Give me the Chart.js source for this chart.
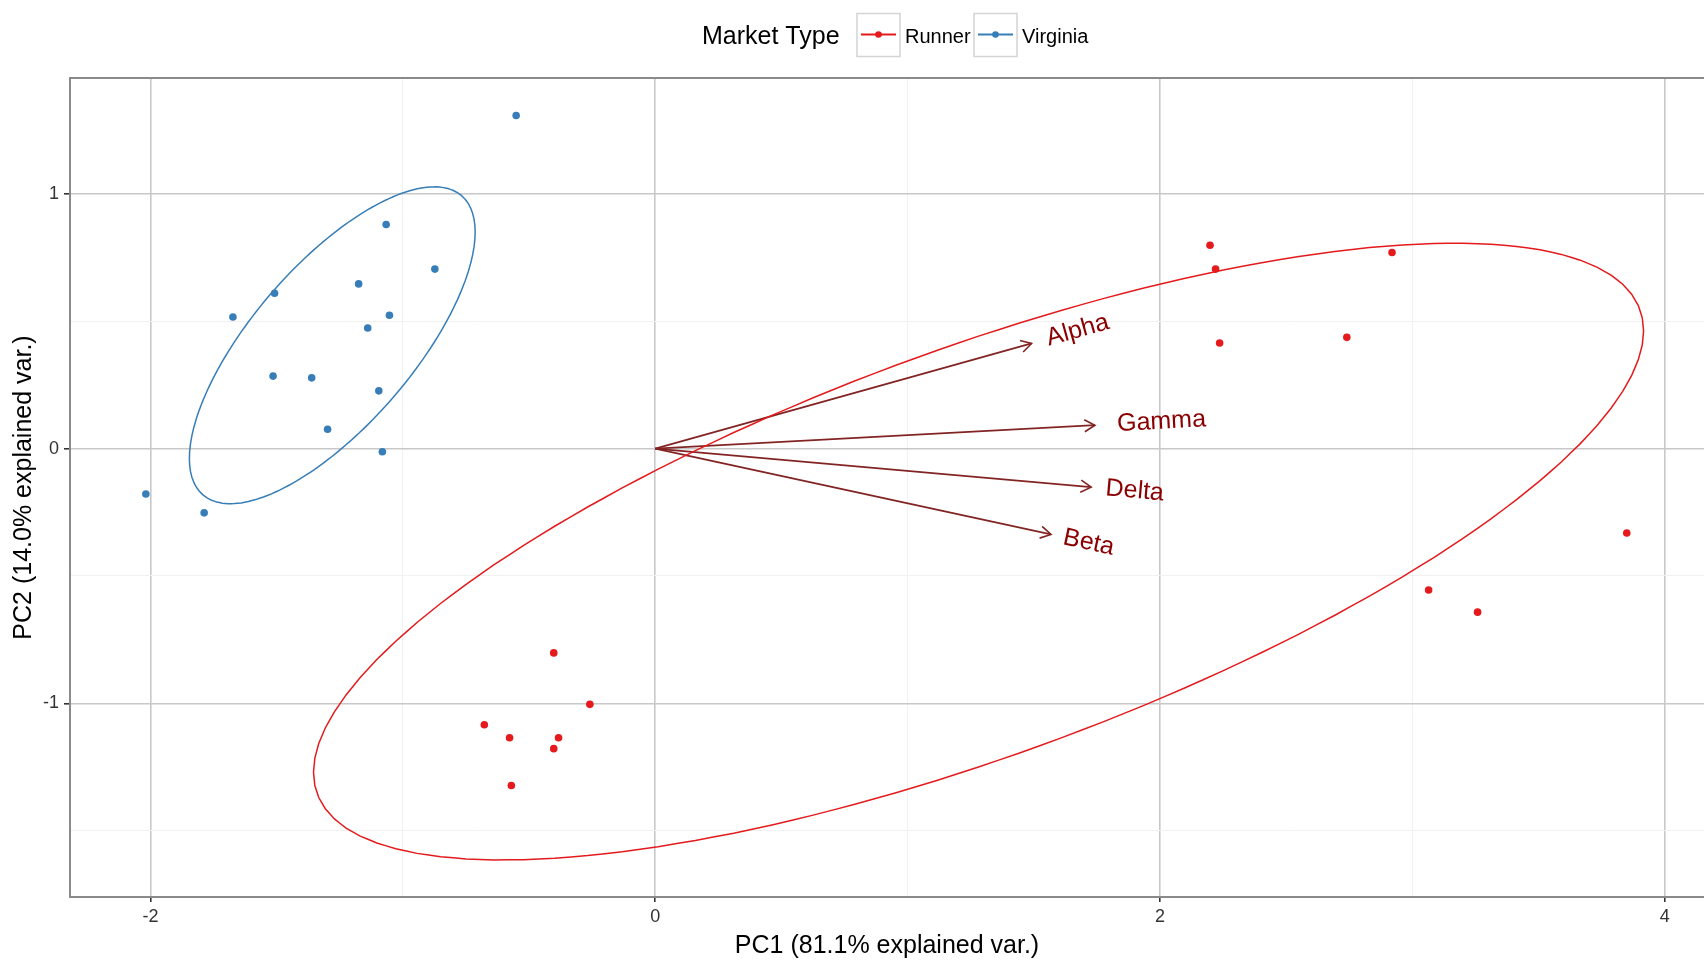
<!DOCTYPE html>
<html>
<head>
<meta charset="utf-8">
<script src="https://cdn.jsdelivr.net/npm/chart.js@4.4.1/dist/chart.umd.min.js"></script>
<style>
  body { margin: 0; background: #fff; }
  #wrap { width: 1704px; height: 961px; position: relative; }
</style>
</head>
<body>
<div id="wrap"><canvas id="pca"></canvas></div>
<script>
// PCA biplot - Market Type

const groups = ['Runner', 'Virginia'];
const groupColors = ['#E41A1C', '#377EB8'];

const runnerX = [2.198, 2.220, 2.919, 2.236, 2.740, 3.849, 3.064, 3.258, -0.402, -0.259, -0.677, -0.577, -0.383, -0.402, -0.570];
const runnerY = [0.799, 0.705, 0.770, 0.415, 0.437, -0.331, -0.555, -0.642, -0.802, -1.004, -1.084, -1.135, -1.135, -1.178, -1.323];

const virginiaX = [-0.551, -1.066, -0.873, -1.175, -1.508, -1.673, -1.053, -1.139, -1.514, -1.361, -1.095, -1.298, -1.081, -2.018, -1.787];
const virginiaY = [1.308, 0.880, 0.705, 0.647, 0.610, 0.517, 0.524, 0.474, 0.285, 0.278, 0.227, 0.076, -0.012, -0.178, -0.252];

const varNames = ['Alpha', 'Gamma', 'Delta', 'Beta'];
const varX = [1.491, 1.742, 1.727, 1.568];
const varY = [0.413, 0.092, -0.151, -0.337];

const xTicks = [-2, -1, 0, 1, 2, 3, 4];
const xLabels = [-2, 0, 2, 4];
const yTicks = [-1.5, -1, -0.5, 0, 0.5, 1];
const yLabels = [-1, 0, 1];

const FONT = "'Liberation Sans', Arial, sans-serif";
const arrowColor = '#832424';
const labelColor = '#8B0000';

// normal data ellipse (68%) like ggbiplot
function ellipse(xs, ys, prob) {
  const n = xs.length;
  const mx = xs.reduce((a, b) => a + b, 0) / n;
  const my = ys.reduce((a, b) => a + b, 0) / n;
  let sxx = 0, syy = 0, sxy = 0;
  for (let i = 0; i < n; i++) {
    sxx += (xs[i] - mx) ** 2;
    syy += (ys[i] - my) ** 2;
    sxy += (xs[i] - mx) * (ys[i] - my);
  }
  sxx /= n - 1; syy /= n - 1; sxy /= n - 1;
  const a = Math.sqrt(sxx), b = sxy / a, c = Math.sqrt(syy - b * b);
  const ed = Math.sqrt(-2 * Math.log(1 - prob));
  const pts = [];
  for (let k = 0; k <= 100; k++) {
    const t = -Math.PI + 2 * Math.PI * k / 100;
    const u = Math.cos(t), v = Math.sin(t);
    pts.push({ x: mx + ed * u * a, y: my + ed * (u * b + v * c) });
  }
  return pts;
}

const toPts = (xs, ys) => xs.map((v, i) => ({ x: v, y: ys[i] }));

const datasets = [
  { label: 'Runner', data: toPts(runnerX, runnerY), backgroundColor: groupColors[0], pointRadius: 3.8, borderWidth: 0 },
  { label: 'Virginia', data: toPts(virginiaX, virginiaY), backgroundColor: groupColors[1], pointRadius: 3.8, borderWidth: 0 },
  { label: 'Runner ellipse', data: ellipse(runnerX, runnerY, 0.68), showLine: true, tension: 0.01, borderColor: groupColors[0], borderWidth: 1.5, pointRadius: 0, fill: false },
  { label: 'Virginia ellipse', data: ellipse(virginiaX, virginiaY, 0.68), showLine: true, tension: 0.01, borderColor: groupColors[1], borderWidth: 1.5, pointRadius: 0, fill: false }
];
varNames.forEach((name, i) => {
  datasets.push({ label: name, data: [{ x: 0, y: 0 }, { x: varX[i], y: varY[i] }], showLine: true, borderColor: arrowColor, borderWidth: 1.8, pointRadius: 0 });
});

const overlay = {
  id: 'overlay',
  afterDatasetsDraw(chart) {
    const { ctx, chartArea: area, scales: { x, y } } = chart;
    ctx.save();
    const x0 = x.getPixelForValue(0), y0 = y.getPixelForValue(0);
    varNames.forEach((name, i) => {
      const x1 = x.getPixelForValue(varX[i]), y1 = y.getPixelForValue(varY[i]);
      const ang = Math.atan2(y1 - y0, x1 - x0);
      const len = 12, spread = Math.PI / 6;
      ctx.strokeStyle = arrowColor;
      ctx.lineWidth = 1.6;
      ctx.beginPath();
      ctx.moveTo(x1 - len * Math.cos(ang - spread), y1 - len * Math.sin(ang - spread));
      ctx.lineTo(x1, y1);
      ctx.lineTo(x1 - len * Math.cos(ang + spread), y1 - len * Math.sin(ang + spread));
      ctx.stroke();

      ctx.save();
      ctx.translate(x1, y1);
      ctx.rotate(ang);
      ctx.font = '25px ' + FONT;
      ctx.fillStyle = labelColor;
      ctx.textAlign = 'left';
      ctx.textBaseline = 'middle';
      const w = ctx.measureText(name).width;
      ctx.fillText(name, 0.25 * w, 0);
      ctx.restore();
    });
    // panel border
    ctx.strokeStyle = '#8a8a8a';
    ctx.lineWidth = 2;
    ctx.strokeRect(area.left, area.top, area.right - area.left + 20, area.bottom - area.top);
    ctx.restore();
  },
  afterDraw(chart) {
    const ctx = chart.ctx;
    ctx.save();
    ctx.fillStyle = '#000';
    ctx.textBaseline = 'middle';
    ctx.textAlign = 'left';
    ctx.font = '25px ' + FONT;
    ctx.fillText('Market Type', 702, 37);
    const boxes = [857, 974];
    groups.forEach((g, i) => {
      const bx = boxes[i];
      ctx.strokeStyle = '#d4d4d4';
      ctx.lineWidth = 1.5;
      ctx.strokeRect(bx, 13.5, 43, 43);
      ctx.strokeStyle = groupColors[i];
      ctx.lineWidth = 2;
      ctx.beginPath();
      ctx.moveTo(bx + 4, 34.5);
      ctx.lineTo(bx + 39, 34.5);
      ctx.stroke();
      ctx.fillStyle = groupColors[i];
      ctx.beginPath();
      ctx.arc(bx + 21.5, 34.5, 3.3, 0, Math.PI * 2);
      ctx.fill();
      ctx.fillStyle = '#000';
      ctx.font = '20px ' + FONT;
      ctx.fillText(g, bx + 48, 37);
    });
    ctx.restore();
  }
};

const ctx = document.getElementById('pca').getContext('2d');

const myChart = new Chart(ctx, {
  type: 'scatter',
  data: { datasets: datasets },
  plugins: [overlay],
  options: {
    responsive: true,
    maintainAspectRatio: false,
    animation: false,
    layout: { autoPadding: false, padding: { top: 78, right: 0, left: 0, bottom: 0 } },
    plugins: { legend: { display: false }, tooltip: { enabled: false } },
    scales: {
      x: {
        type: 'linear',
        min: -2.3185,
        max: 4.155,
        afterBuildTicks: (scale) => { scale.ticks = xTicks.map(v => ({ value: v })); },
        afterFit: (scale) => { scale.height = 64; scale.paddingLeft = 0; scale.paddingRight = 0; },
        border: { display: false },
        grid: {
          color: (c) => xLabels.includes(c.tick.value) ? '#c8c8c8' : '#f1f1f1',
          lineWidth: (c) => xLabels.includes(c.tick.value) ? 1.6 : 1,
          tickColor: (c) => xLabels.includes(c.tick.value) ? '#333' : 'rgba(0,0,0,0)',
          tickLength: 5,
          tickWidth: 1.6
        },
        ticks: {
          autoSkip: false,
          maxRotation: 0,
          padding: 4,
          color: '#333',
          font: { family: FONT, size: 18 },
          callback: (v) => xLabels.includes(v) ? String(v) : ''
        },
        title: {
          display: true,
          text: 'PC1 (81.1% explained var.)',
          color: '#000',
          font: { family: FONT, size: 25 },
          padding: { top: 3, bottom: 0 }
        }
      },
      y: {
        type: 'linear',
        min: -1.7606,
        max: 1.4555,
        afterBuildTicks: (scale) => { scale.ticks = yTicks.map(v => ({ value: v })); },
        afterFit: (scale) => { scale.width = 70; scale.paddingTop = 0; scale.paddingBottom = 0; },
        border: { display: false },
        grid: {
          color: (c) => yLabels.includes(c.tick.value) ? '#c8c8c8' : '#f1f1f1',
          lineWidth: (c) => yLabels.includes(c.tick.value) ? 1.6 : 1,
          tickColor: (c) => yLabels.includes(c.tick.value) ? '#333' : 'rgba(0,0,0,0)',
          tickLength: 6,
          tickWidth: 1.6
        },
        ticks: {
          autoSkip: false,
          padding: 5,
          color: '#333',
          font: { family: FONT, size: 18 },
          callback: (v) => yLabels.includes(v) ? String(v) : ''
        },
        title: {
          display: true,
          text: 'PC2 (14.0% explained var.)',
          color: '#000',
          font: { family: FONT, size: 25 },
          padding: { top: 9, bottom: 0 }
        }
      }
    }
  }
});
</script>
</body>
</html>
